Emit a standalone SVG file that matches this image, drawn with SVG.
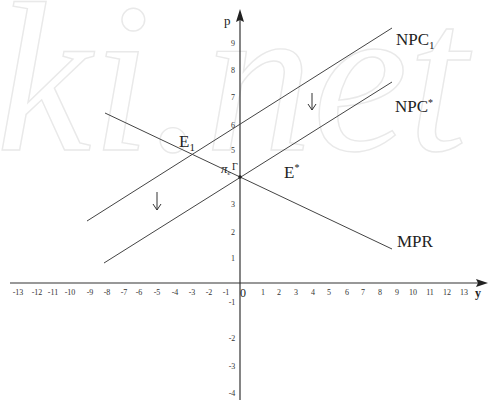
<svg xmlns="http://www.w3.org/2000/svg" width="488" height="402" viewBox="0 0 488 402">
<style>
.wm{font-family:"Liberation Serif",serif;font-style:italic;font-size:215px;fill:none;stroke:#e9e9e9;stroke-width:1.4}
.ax{stroke:#333;stroke-width:1.2;fill:none}
.ln{stroke:#444;stroke-width:1;fill:none}
.tk{font-family:"Liberation Serif",serif;font-size:8px;fill:#333;text-anchor:middle}
.lb{font-family:"Liberation Serif",serif;font-size:17px;fill:#222}
.ar{stroke:#333;stroke-width:1;fill:none}
</style>
<rect width="488" height="402" fill="#fff"/>
<text class="wm" x="-4" y="150">ki.net</text>
<g id="axes">
<line class="ax" x1="10" y1="283" x2="480" y2="283"/>
<path d="M488,283 L476,279 L478,283 L476,287 Z" fill="#222"/>
<line class="ax" x1="240" y1="18" x2="240" y2="400"/>
<path d="M240,9 L236,22 L240,20 L244,22 Z" fill="#222"/>
<text class="lb" x="224" y="25" style="font-size:13px">p</text>
<text class="lb" x="475" y="297" style="font-size:12px;font-weight:bold">y</text>
<text class="lb" x="240" y="297" style="font-size:12px">0</text>
</g>
<g id="xticks">
<text class="tk" x="263" y="295">1</text><text class="tk" x="279" y="295">2</text><text class="tk" x="296" y="295">3</text><text class="tk" x="313" y="295">4</text><text class="tk" x="329" y="295">5</text><text class="tk" x="347" y="295">6</text><text class="tk" x="363" y="295">7</text><text class="tk" x="380" y="295">8</text><text class="tk" x="397" y="295">9</text><text class="tk" x="413" y="295">10</text><text class="tk" x="430" y="295">11</text><text class="tk" x="447" y="295">12</text><text class="tk" x="464" y="295">13</text>
<text class="tk" x="226" y="295">-1</text><text class="tk" x="209" y="295">-2</text><text class="tk" x="192" y="295">-3</text><text class="tk" x="175" y="295">-4</text><text class="tk" x="157" y="295">-5</text><text class="tk" x="139" y="295">-6</text><text class="tk" x="124" y="295">-7</text><text class="tk" x="107" y="295">-8</text><text class="tk" x="90" y="295">-9</text><text class="tk" x="70" y="295">-10</text><text class="tk" x="53" y="295">-11</text><text class="tk" x="37" y="295">-12</text><text class="tk" x="18" y="295">-13</text>
</g>
<g id="yticks">
<text class="tk" x="233" y="46">9</text><text class="tk" x="233" y="73">8</text><text class="tk" x="233" y="100">7</text><text class="tk" x="233" y="128">6</text><text class="tk" x="233" y="153">5</text><text class="tk" x="233" y="207">3</text><text class="tk" x="233" y="235">2</text><text class="tk" x="233" y="261">1</text>
<text class="tk" x="232" y="305">-1</text><text class="tk" x="232" y="341">-2</text><text class="tk" x="232" y="369">-3</text><text class="tk" x="232" y="396">-4</text>
</g>
<g id="curves">
<line id="NPC1" class="ln" x1="87" y1="221" x2="392" y2="28"/>
<line id="NPCstar" class="ln" x1="104" y1="263" x2="392" y2="82"/>
<line id="MPR" class="ln" x1="105" y1="113" x2="392" y2="249"/>
</g>
<g id="labels">
<text class="lb" x="396" y="45">NPC<tspan font-size="11" dy="4">1</tspan></text>
<text class="lb" x="395" y="112">NPC<tspan font-size="10" dy="-6">*</tspan></text>
<text class="lb" x="397" y="247">MPR</text>
<text class="lb" x="179" y="147">E<tspan font-size="11" dy="4">1</tspan></text>
<text class="lb" x="284" y="178">E<tspan font-size="10" dy="-7">*</tspan></text>
<text class="lb" x="221" y="173" style="font-size:13px;font-style:italic">π<tspan font-size="7" dy="2">e</tspan></text>
<text class="lb" x="232" y="170" style="font-size:10px">Γ</text>
</g>
<g id="shift-arrows">
<path class="ar" d="M312,93 V110 M308,104 L312,110 L316,104"/>
<path class="ar" d="M157,192 V210 M153,204 L157,210 L161,204"/>
</g>
<circle cx="240" cy="177" r="1.8" fill="#222"/>
</svg>
